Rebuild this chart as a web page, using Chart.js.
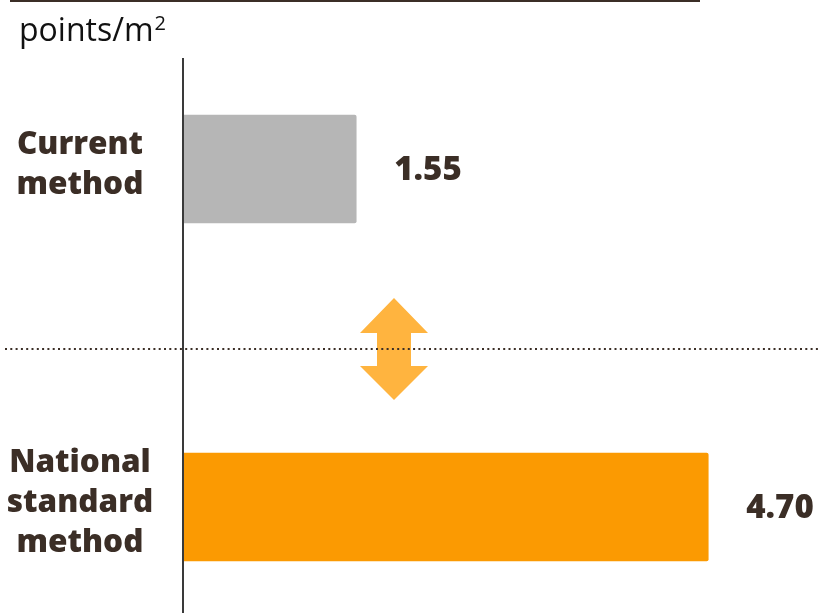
<!DOCTYPE html>
<html>
<head>
<meta charset="utf-8">
<script src="https://cdn.jsdelivr.net/npm/chart.js@4"></script>
<style>
  html, body { margin: 0; padding: 0; background: #fff; overflow: hidden; }
  #wrap { position: relative; width: 820px; height: 613px; overflow: hidden; }
  canvas { position: absolute; left: 0; top: 0; }
</style>
</head>
<body>
<div id="wrap">
  <canvas id="graph" width="820" height="676"></canvas>
</div>
<script>
// data
let categories = [['Current', 'method'], ['National', 'standard', 'method']];
let values = [1.55, 4.70];
let valueLabels = ['1.55', '4.70'];
let barColors = ['#b6b6b6', '#fb9a02'];
let unitText = 'points/m';
let unitSup = '2';

let ink = '#3b2e26';
let family = '"Open Sans"';
let boldFont = '800 31.5px ' + family;

// extra drawing: top rule, unit, category names, axis line, dotted divider, arrow, value labels
let extras = {
  id: 'extras',
  beforeDatasetsDraw(chart) {
    let ctx = chart.ctx;
    let yScale = chart.scales.y;
    ctx.save();
    // top rule
    ctx.fillStyle = ink;
    ctx.fillRect(10, 0, 690, 2);

    // unit with superscript
    ctx.fillStyle = '#111';
    ctx.font = '32px ' + family;
    ctx.textBaseline = 'alphabetic';
    ctx.textAlign = 'left';
    ctx.fillText(unitText, 19, 41);
    let w = ctx.measureText(unitText).width;
    ctx.font = '20px ' + family;
    ctx.fillText(unitSup, 19 + w + 1, 30);

    // category names, centred in the left margin
    ctx.fillStyle = ink;
    ctx.font = boldFont;
    ctx.textAlign = 'center';
    ctx.textBaseline = 'middle';
    categories.forEach((lines, i) => {
      let cy = yScale.getPixelForValue(i) - 4;
      let lh = 40;
      lines.forEach((line, j) => {
        ctx.fillText(line, 80, cy + (j - (lines.length - 1) / 2) * lh);
      });
    });
    ctx.restore();
  },
  afterDatasetsDraw(chart) {
    let ctx = chart.ctx;
    let area = chart.chartArea;
    let meta = chart.getDatasetMeta(0);
    let yScale = chart.scales.y;
    ctx.save();

    // vertical axis
    ctx.strokeStyle = '#3a3a3a';
    ctx.lineWidth = 2;
    ctx.beginPath();
    ctx.moveTo(area.left, 58);
    ctx.lineTo(area.left, area.bottom);
    ctx.stroke();

    // arrow between the two bars
    let midY = (yScale.getPixelForValue(0) + yScale.getPixelForValue(1)) / 2 + 11;
    let cx = area.left + 211;
    ctx.fillStyle = '#ffb43f';
    ctx.beginPath();
    ctx.moveTo(cx, midY - 51);
    ctx.lineTo(cx + 34, midY - 16);
    ctx.lineTo(cx + 17, midY - 16);
    ctx.lineTo(cx + 17, midY + 17);
    ctx.lineTo(cx + 34, midY + 17);
    ctx.lineTo(cx, midY + 51);
    ctx.lineTo(cx - 34, midY + 17);
    ctx.lineTo(cx - 17, midY + 17);
    ctx.lineTo(cx - 17, midY - 16);
    ctx.lineTo(cx - 34, midY - 16);
    ctx.closePath();
    ctx.fill();

    // dotted divider
    ctx.strokeStyle = ink;
    ctx.lineWidth = 2;
    ctx.setLineDash([2, 3.3]);
    ctx.beginPath();
    ctx.moveTo(5, midY);
    ctx.lineTo(820, midY);
    ctx.stroke();
    ctx.setLineDash([]);

    // value labels
    ctx.fillStyle = ink;
    ctx.font = '800 33px ' + family;
    ctx.textAlign = 'left';
    ctx.textBaseline = 'middle';
    meta.data.forEach((bar, i) => {
      ctx.fillText(valueLabels[i], bar.x + 38, bar.y + 2);
    });
    ctx.restore();
  }
};

let graphEl = document.querySelector('#graph');

let graph = new Chart(graphEl, {
  type: 'bar',
  data: {
    labels: categories,
    datasets: [{
      data: values,
      backgroundColor: barColors,
      borderWidth: 0,
      borderRadius: { topRight: 2, bottomRight: 2 },
      borderSkipped: 'left',
      barThickness: 108
    }]
  },
  options: {
    indexAxis: 'y',
    responsive: false,
    animation: false,
    devicePixelRatio: 1,
    layout: { padding: 0 },
    plugins: {
      legend: { display: false },
      tooltip: { enabled: false }
    },
    scales: {
      x: {
        display: false,
        min: 0,
        max: 5.7
      },
      y: {
        grid: { display: false },
        border: { display: false },
        ticks: { display: false },
        afterFit(scale) { scale.width = 183; }
      }
    }
  },
  plugins: [extras]
});
</script>
</body>
</html>
